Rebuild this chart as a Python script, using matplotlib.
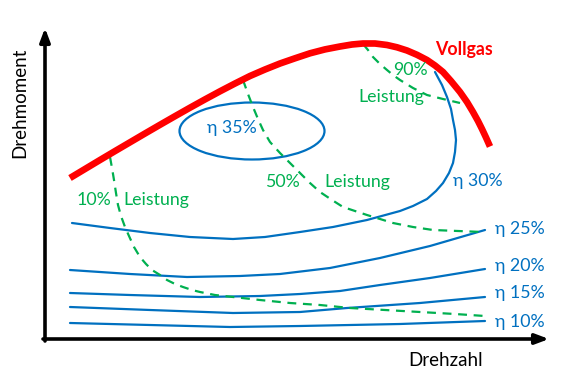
import matplotlib.pyplot as plt
from matplotlib.patches import Ellipse

# schematic engine map, coordinates in picture units (x = Drehzahl, y = Drehmoment, y grows downward)
vollgas_x = [70, 85, 100, 115, 130, 145, 160, 175, 190, 205, 220, 235, 250, 265, 280, 295, 310,
             325, 340, 352, 363, 375, 387, 397, 407, 417, 427, 435, 443, 451, 460, 467, 473, 478,
             482, 486, 490]
vollgas_y = [178, 169, 160, 151.1, 142.3, 133.5, 124.8, 116.2, 107.7, 99.4, 91.3, 83.5, 76, 69.5,
             63.5, 58.3, 53.3, 49.4, 46.5, 44.5, 43.5, 43.5, 45, 47.3, 50.5, 54.8, 60, 65.5, 72,
             81, 92, 102, 112, 121, 129, 137.5, 146.5]

eta10_x = [70, 150, 230, 300, 400, 485]
eta10_y = [323, 325, 327, 326, 324, 321]
eta15_x = [70, 150, 233, 300, 347, 420, 485]
eta15_y = [307, 310, 313, 312, 308, 303, 297]
eta20_x = [70, 130, 200, 260, 300, 340, 380, 430, 485]
eta20_y = [293, 295, 297, 296, 294, 291, 285, 278, 269]
eta25_x = [70, 130, 187, 240, 280, 330, 380, 430, 485]
eta25_y = [270, 274, 277, 276, 274, 268, 258, 246, 230]
eta30_x = [72, 110, 150, 190, 233, 265, 300, 333, 367, 400, 413, 427, 436, 443, 449, 453, 455,
           456, 455, 453, 451, 447, 442, 435]
eta30_y = [223, 228, 233, 237, 239, 237, 232, 227, 220, 211, 206, 199, 191, 183, 173, 163, 152,
           140, 130, 120, 109, 97, 85, 72]

eta35_center = (252, 131)
eta35_size = (145, 57)

p10_x = [110, 112, 114, 116, 118, 121, 125, 129, 134, 140, 146, 152, 160, 167, 175, 183, 192, 200,
         215, 233, 260, 290, 320, 350, 385, 420, 455, 485]
p10_y = [157, 168, 180, 193, 205, 216, 227, 236, 247, 257, 264, 270, 275, 280, 284, 287, 290, 292,
         295, 297, 300, 303, 305, 308, 310, 312, 314, 316]
p50_x = [243, 248, 253, 258, 263, 270, 280, 290, 300, 310, 320, 332, 343, 355, 367, 380, 393, 413,
         433, 458, 483]
p50_y = [80, 94, 107, 119, 130, 142, 153, 163, 173, 183, 192, 200, 207, 211, 215, 219, 223, 227,
         230, 231, 232]
p90_x = [363, 368, 373, 380, 387, 393, 400, 413, 427, 443, 460]
p90_y = [44, 50, 57, 64, 70, 75, 80, 88, 95, 99, 103]

eta_labels = ["η 25%", "η 20%", "η 15%", "η 10%"]
eta_label_y = [229, 266, 293, 322]

red = "#FF0000"
blue = "#0070C0"
green = "#00B050"

plt.rcParams["font.family"] = ["Lato", "DejaVu Sans"]
fs = 12.8

fig = plt.figure(figsize=(5.85, 3.87), dpi=100)
ax = fig.add_axes([0, 0, 1, 1])
ax.set_xlim(0, 585)
ax.set_ylim(387, 0)
ax.axis("off")

# axes arrows
ax.annotate("", xy=(45, 28), xytext=(45, 341),
            arrowprops=dict(arrowstyle="-|>,head_length=0.8,head_width=0.3", lw=2.6, color="black",
                            shrinkA=0, shrinkB=0))
ax.annotate("", xy=(549, 339), xytext=(43, 339),
            arrowprops=dict(arrowstyle="-|>,head_length=0.8,head_width=0.3", lw=2.6, color="black",
                            shrinkA=0, shrinkB=0))
ax.text(20, 103, "Drehmoment", rotation=90, ha="center", va="center", fontsize=13.5)
ax.text(446, 360, "Drehzahl", ha="center", va="center", fontsize=13.5)

# efficiency lines
for xs, ys in [(eta10_x, eta10_y), (eta15_x, eta15_y), (eta20_x, eta20_y),
               (eta25_x, eta25_y), (eta30_x, eta30_y)]:
    ax.plot(xs, ys, color=blue, lw=1.6, solid_capstyle="round", solid_joinstyle="round")
ax.add_patch(Ellipse(eta35_center, eta35_size[0], eta35_size[1], fill=False, ec=blue, lw=1.6))

# power lines
for xs, ys in [(p10_x, p10_y), (p50_x, p50_y), (p90_x, p90_y)]:
    ax.plot(xs, ys, color=green, lw=1.6, ls=(0, (4, 3)))

# full load
ax.plot(vollgas_x, vollgas_y, color=red, lw=4.8, solid_capstyle="butt", solid_joinstyle="round")

for lab, y in zip(eta_labels, eta_label_y):
    ax.text(495, y, lab, color=blue, ha="left", va="center", fontsize=fs)
ax.text(453, 181, "η 30%", color=blue, ha="left", va="center", fontsize=fs)
ax.text(207, 128, "η 35%", color=blue, ha="left", va="center", fontsize=fs)

ax.text(435, 50, "Vollgas", color=red, ha="left", va="center", fontsize=fs, fontweight="bold")
ax.text(77, 200, "10%", color=green, ha="left", va="center", fontsize=fs)
ax.text(123, 200, "Leistung", color=green, ha="left", va="center", fontsize=fs)
ax.text(265, 182, "50%", color=green, ha="left", va="center", fontsize=fs)
ax.text(324, 182, "Leistung", color=green, ha="left", va="center", fontsize=fs)
ax.text(393, 70, "90%", color=green, ha="left", va="center", fontsize=fs)
ax.text(358, 97, "Leistung", color=green, ha="left", va="center", fontsize=fs)

fig.savefig("out.png", dpi=100)
plt.close(fig)
